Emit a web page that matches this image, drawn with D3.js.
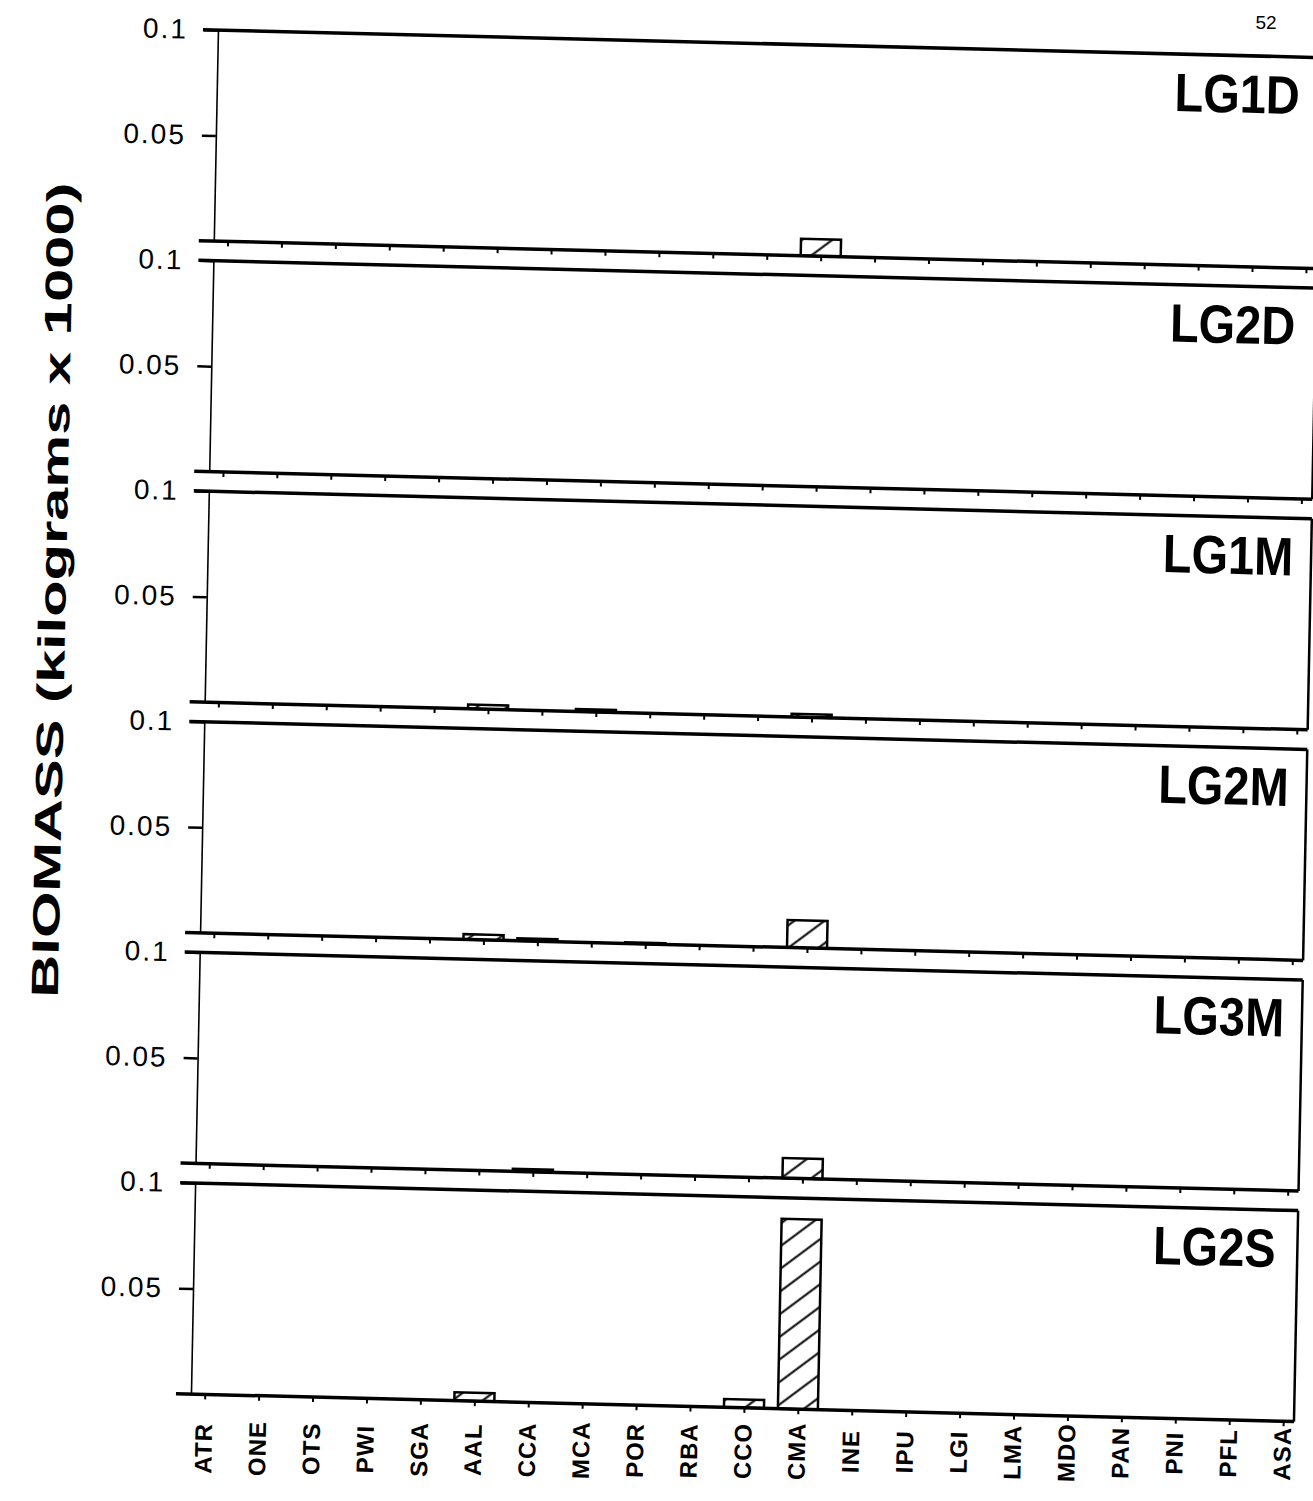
<!DOCTYPE html>
<html>
<head>
<meta charset="utf-8">
<script src="https://cdn.jsdelivr.net/npm/d3@7"></script>
<style>
	body { margin: 0; background: #fff; }
	svg { display: block; font-family: "Liberation Sans", Arial, sans-serif; }
</style>
</head>
<body>
<div id="chart"></div>
<script>
(function (d3) {
	'use strict';

	// species codes along the x axis
	const categories = ["ATR", "ONE", "OTS", "PWI", "SGA", "AAL", "CCA", "MCA", "POR", "RBA",
		"CCO", "CMA", "INE", "IPU", "LGI", "LMA", "MDO", "PAN", "PNI", "PFL", "ASA"];

	// one panel per site, top to bottom
	const panelNames = ["LG1D", "LG2D", "LG1M", "LG2M", "LG3M", "LG2S"];

	// biomass (kg x 1000) per species, same order as categories
	const lg1d = [0, 0, 0, 0, 0, 0, 0, 0, 0, 0, 0, 0.008, 0, 0, 0, 0, 0, 0, 0, 0, 0];
	const lg2d = [0, 0, 0, 0, 0, 0, 0, 0, 0, 0, 0, 0, 0, 0, 0, 0, 0, 0, 0, 0, 0];
	const lg1m = [0, 0, 0, 0, 0, 0.002, 0, 0.0012, 0, 0, 0, 0.0015, 0, 0, 0, 0, 0, 0, 0, 0, 0];
	const lg2m = [0, 0, 0, 0, 0, 0.0025, 0.0012, 0, 0.0006, 0, 0, 0.013, 0, 0, 0, 0, 0, 0, 0, 0, 0];
	const lg3m = [0, 0, 0, 0, 0, 0, 0.0012, 0, 0, 0, 0, 0.0095, 0, 0, 0, 0, 0, 0, 0, 0, 0];
	const lg2s = [0, 0, 0, 0, 0, 0.004, 0, 0, 0, 0, 0.004, 0.09, 0, 0, 0, 0, 0, 0, 0, 0, 0];
	const seriesValues = [lg1d, lg2d, lg1m, lg2m, lg3m, lg2s];

	const yTicks = [0.05, 0.1];
	const yTickLabels = ["0.05", "0.1"];
	const yLabel = "BIOMASS (kilograms x 1000)";
	const pageNumber = "52";

	const width = 1313;
	const height = 1501;

	// panel layout (in the page frame before the scan tilt)
	const left = 191, right = 1294;
	const firstTop = 30, panelStep = 230.6, panelH = 211;
	const barW = 40;

	const svg = d3.select("#chart").append("svg")
		.attr("width", width)
		.attr("height", height);

	const defs = svg.append("defs");
	const hatch = defs.append("pattern")
		.attr("id", "hatch")
		.attr("patternUnits", "userSpaceOnUse")
		.attr("width", 10)
		.attr("height", 18)
		.attr("patternTransform", "rotate(-38)");
	hatch.append("path")
		.attr("d", "M-1,9H11")
		.attr("stroke", "#000")
		.attr("stroke-width", 2);

	// the scanned page is slightly tilted
	const page = svg.append("g")
		.attr("transform", "matrix(1,0.025,-0.0198,1,27.56,-4.75)");

	const x = d3.scalePoint()
		.domain(categories)
		.range([left + 3, right])
		.padding(0.2);

	panelNames.forEach((name, i) => {
		const top = firstTop + i * panelStep;
		const y = d3.scaleLinear()
			.domain([0, 0.1])
			.range([top + panelH, top]);
		const values = seriesValues[i];
		const g = page.append("g");

		// y axis
		const yAxis = d3.axisLeft(y)
			.tickValues(yTicks)
			.tickSize(14)
			.tickSizeOuter(0)
			.tickPadding(16)
			.tickFormat((d, k) => yTickLabels[k]);
		const yAxisG = g.append("g")
			.attr("transform", `translate(${left},0)`)
			.call(yAxis);
		yAxisG.select(".domain").attr("stroke-width", 1.6);
		yAxisG.selectAll(".tick line").attr("stroke-width", 2.5);
		yAxisG.selectAll(".tick text")
			.attr("font-family", "'Liberation Sans', Arial, sans-serif")
			.attr("font-size", 28)
			.attr("letter-spacing", 2)
			.attr("fill", "#000");

		// x ticks on the baseline
		const xAxis = d3.axisBottom(x).tickSize(5).tickSizeOuter(0).tickFormat("");
		const xAxisG = g.append("g")
			.attr("transform", `translate(0,${y(0)})`)
			.call(xAxis);
		xAxisG.select(".domain").remove();
		xAxisG.selectAll(".tick line").attr("stroke-width", 2);

		// bars
		g.selectAll("rect.bar")
			.data(categories.map((c, k) => ({ c: c, v: values[k] })).filter(d => d.v > 0))
			.enter().append("rect")
			.attr("class", "bar")
			.attr("x", d => x(d.c) - barW / 2)
			.attr("y", d => y(d.v))
			.attr("width", barW)
			.attr("height", d => y(0) - y(d.v))
			.attr("fill", "url(#hatch)")
			.attr("stroke", "#000")
			.attr("stroke-width", 2.5);

		// frame: top, right, baseline
		g.append("line")
			.attr("x1", left - 15).attr("x2", right)
			.attr("y1", y(0.1)).attr("y2", y(0.1))
			.attr("stroke", "#000").attr("stroke-width", 3.5);
		g.append("line")
			.attr("x1", left - 15).attr("x2", right)
			.attr("y1", y(0)).attr("y2", y(0))
			.attr("stroke", "#000").attr("stroke-width", 3.5);
		g.append("line")
			.attr("x1", right).attr("x2", right)
			.attr("y1", y(0.1)).attr("y2", y(0))
			.attr("stroke", "#000").attr("stroke-width", 2.5);

		// site label
		g.append("text")
			.attr("transform", `translate(1211,${top + 57}) scale(0.87,1)`)
			.attr("text-anchor", "middle")
			.attr("font-size", 54)
			.attr("font-weight", "bold")
			.text(name);

		// category names under the last panel
		if (i === panelNames.length - 1) {
			g.selectAll("text.cat")
				.data(categories)
				.enter().append("text")
				.attr("class", "cat")
				.attr("transform", d => `translate(${x(d) + 8},${1448 - 0.02 * (x(d) - 200)}) rotate(-90)`)
				.attr("text-anchor", "middle")
				.attr("font-size", 24)
				.attr("font-weight", "bold")
				.attr("letter-spacing", 1)
				.text(d => d);
		}
	});

	// axis title
	page.append("text")
		.attr("transform", "translate(50,594) rotate(-90)")
		.attr("text-anchor", "middle")
		.attr("font-size", 38)
		.attr("font-weight", "bold")
		.attr("textLength", 815)
		.attr("lengthAdjust", "spacingAndGlyphs")
		.text(yLabel);

	svg.append("text")
		.attr("x", 1266)
		.attr("y", 29)
		.attr("text-anchor", "middle")
		.attr("font-size", 19)
		.text(pageNumber);
}(d3));
</script>
</body>
</html>
